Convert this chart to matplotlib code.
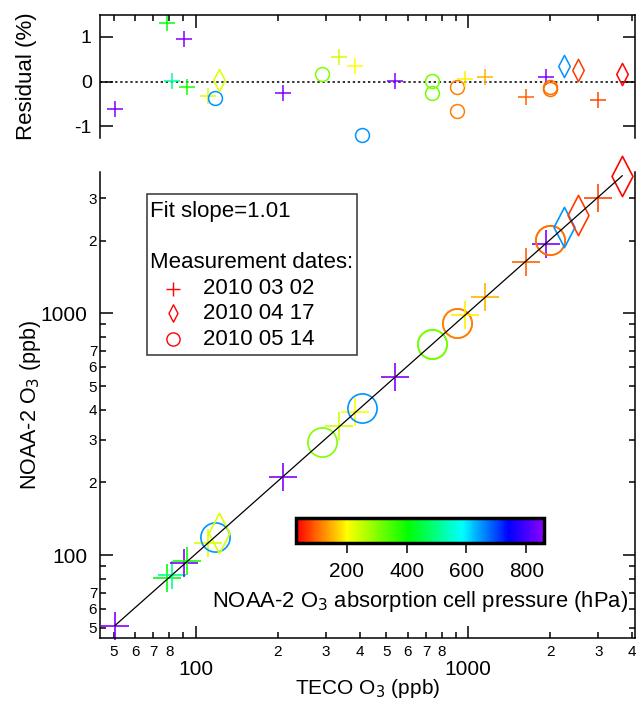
import numpy as np
import matplotlib
matplotlib.use('Agg')
import matplotlib.pyplot as plt
from matplotlib.colors import LinearSegmentedColormap, Normalize
from matplotlib.cm import ScalarMappable
from matplotlib.path import Path
from matplotlib.patches import Rectangle
from matplotlib.ticker import FuncFormatter, NullFormatter

plt.rcParams['font.family'] = ['Liberation Sans', 'DejaVu Sans']
plt.rcParams['axes.unicode_minus'] = False

# ------------------------------------------------------------------
# data
# ------------------------------------------------------------------
teco = [50.6, 78.3, 81.7, 90.8, 93.4, 111.2, 118, 122, 209.6, 290, 336.5, 384,
        408, 538, 738, 738, 907, 907, 972, 1151, 1624, 1922, 1995, 1998, 2244,
        2518, 2985, 3672]
noaa = [51.0, 80.1, 82.5, 92.6, 94.2, 112.0, 118.8, 123.3, 211.2, 293.4, 341.8,
        389, 407, 543.5, 745.5, 743.5, 915, 910, 982.5, 1164, 1635, 1943, 2012,
        2011, 2274, 2550, 3002, 3715]
residual = [-0.62, 1.32, 0.02, 0.96, -0.13, -0.31, -0.36, 0.04, -0.26, 0.17, 0.56,
            0.34, -1.19, 0.02, 0.02, -0.26, -0.11, -0.66, 0.07, 0.10, -0.34, 0.10,
            -0.12, -0.17, 0.35, 0.26, -0.42, 0.17]
pressure = [850, 410, 510, 850, 390, 230, 650, 230, 850, 305, 240, 200, 650, 850,
            315, 315, 115, 115, 190, 150, 95, 850, 106, 106, 650, 72, 80, 35]
date_idx = [0, 0, 0, 0, 0, 0, 2, 1, 0, 2, 0, 0, 2, 0, 2, 2, 2, 2, 0, 0, 0, 0, 2, 2,
            1, 1, 0, 1]
dates = ['2010 03 02', '2010 04 17', '2010 05 14']
fit_slope = 1.01
cbar_ticks = [200, 400, 600, 800]

# ------------------------------------------------------------------
# styles
# ------------------------------------------------------------------
diamond = Path([(0, 1), (0.52, 0), (0, -1), (-0.52, 0), (0, 1)],
               [Path.MOVETO, Path.LINETO, Path.LINETO, Path.LINETO, Path.CLOSEPOLY])
markers = ['+', diamond, 'o']
main_size = [20, 29, 21]
res_size = [12, 16, 10]
leg_size = [10, 12.5, 9.5]

cmap = LinearSegmentedColormap.from_list('rainbow_igor', [
    (0.0, (1, 0, 0)),
    (0.2048, (1, 1, 0)),
    (0.4518, (0, 1, 0)),
    (0.6699, (0, 1, 1)),
    (0.859, (0, 0, 1)),
    (1.0, (0.55, 0, 1)),
])
norm = Normalize(30, 860)

fig = plt.figure(figsize=(6.38, 7.01), dpi=100)
ax_r = fig.add_axes([0.1567, 0.8031, 0.8386, 0.1755])
ax = fig.add_axes([0.1567, 0.0899, 0.8386, 0.6647])

# ------------------------------------------------------------------
# main scatter + residuals
# ------------------------------------------------------------------
for x, y, r, p, m in zip(teco, noaa, residual, pressure, date_idx):
    col = cmap(norm(p))
    ax.plot([x], [y], marker=markers[m], ms=main_size[m], mew=1.2,
            mec=col, mfc='none', ls='none', clip_on=False)
    ax_r.plot([x], [r], marker=markers[m], ms=res_size[m], mew=1.1,
              mec=col, mfc='none', ls='none', clip_on=False)

x_fit = np.array([min(teco), max(teco)])
ax.plot(x_fit, fit_slope * x_fit, color='black', lw=0.9)
ax_r.axhline(0, color='#333333', lw=1.4, ls=(0, (1.2, 1.4)), zorder=0)

for a in (ax, ax_r):
    a.set_xscale('log')
    a.set_xlim(44.6, 4090)
    for s in a.spines.values():
        s.set_linewidth(1.1)

ax.set_yscale('log')
ax.set_ylim(45.4, 3843)
ax_r.set_ylim(-1.26, 1.49)


def minor_fmt(allowed):
    def f(v, pos):
        d = int(round(v / 10 ** np.floor(np.log10(v) + 1e-9)))
        return str(d) if d in allowed else ''
    return FuncFormatter(f)


major_fmt = FuncFormatter(lambda v, pos: '%d' % round(v))

ax.xaxis.set_minor_formatter(minor_fmt({2, 3, 4, 5, 6, 7, 8}))
ax.yaxis.set_minor_formatter(minor_fmt({2, 3, 4, 5, 6, 7}))
ax.xaxis.set_major_formatter(major_fmt)
ax.yaxis.set_major_formatter(major_fmt)

ax.spines['top'].set_visible(False)
ax.tick_params(which='both', direction='in', top=False, right=True, width=1.1)
ax.tick_params(which='major', length=9)
ax.tick_params(which='minor', length=4.5)
ax.tick_params(axis='x', which='major', labelsize=15, pad=16)
ax.tick_params(axis='x', which='minor', labelsize=11, pad=5)
ax.tick_params(axis='y', which='major', labelsize=15, pad=9)
ax.tick_params(axis='y', which='minor', labelsize=11, pad=2)

ax_r.spines['bottom'].set_visible(False)
ax_r.set_yticks([-1, 0, 1])
ax_r.xaxis.set_major_formatter(NullFormatter())
ax_r.xaxis.set_minor_formatter(NullFormatter())
ax_r.tick_params(which='both', direction='in', top=True, bottom=False,
                 right=True, width=1.1)
ax_r.tick_params(which='major', length=9)
ax_r.tick_params(which='minor', length=4.5)
ax_r.tick_params(axis='y', labelsize=14, pad=6)

ax.set_xlabel('TECO O$_3$ (ppb)', fontsize=15)
ax.xaxis.set_label_coords(0.5, -0.084)
ax.set_ylabel('NOAA-2 O$_3$ (ppb)', fontsize=15.5)
ax.yaxis.set_label_coords(-0.1065, 0.5)
ax_r.set_ylabel('Residual (%)', fontsize=16)
ax_r.yaxis.set_label_coords(-0.118, 0.5)

# ------------------------------------------------------------------
# legend box
# ------------------------------------------------------------------
ax.add_patch(Rectangle((0.0873, 0.607), 0.3927, 0.345, transform=ax.transAxes,
                       fill=False, ec='#333333', lw=1.1, zorder=5))
ax.text(0.0935, 0.916, 'Fit slope=1.01', transform=ax.transAxes,
        fontsize=16, va='center', ha='left')
ax.text(0.0935, 0.805, 'Measurement dates:', transform=ax.transAxes,
        fontsize=16, va='center', ha='left')
for i, (lab, yy) in enumerate(zip(dates, [0.750, 0.697, 0.641])):
    ax.plot([0.137], [yy], transform=ax.transAxes, marker=markers[i],
            ms=leg_size[i], mew=1.0, mec='red', mfc='none', ls='none')
    ax.text(0.193, yy, lab, transform=ax.transAxes, fontsize=16,
            va='center', ha='left')

# ------------------------------------------------------------------
# colour bar
# ------------------------------------------------------------------
cax = fig.add_axes([0.464, 0.2258, 0.389, 0.0348])
cb = fig.colorbar(ScalarMappable(norm=norm, cmap=cmap), cax=cax,
                  orientation='horizontal')
cb.set_ticks(cbar_ticks)
cb.outline.set_linewidth(2.5)
cax.tick_params(direction='out', length=7, width=1.1, labelsize=15, pad=7)
cb.set_label('NOAA-2 O$_3$ absorption cell pressure (hPa)', fontsize=15.8,
             labelpad=6)

fig.savefig('out.png', dpi=100)
